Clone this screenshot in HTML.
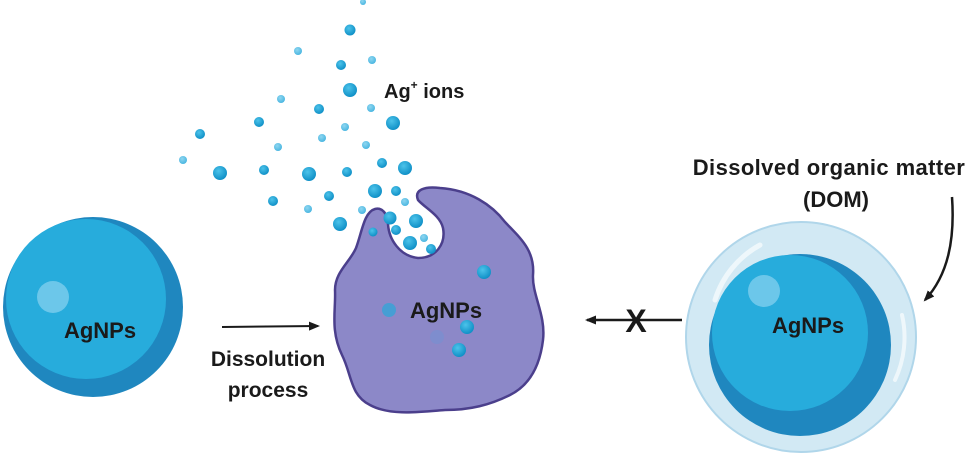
<!DOCTYPE html>
<html><head><meta charset="utf-8"><style>
html,body{margin:0;padding:0;background:#fff;}
svg{display:block;}
text{font-family:"Liberation Sans",sans-serif;font-weight:bold;fill:#1a1a1a;}
</style></head><body>
<svg width="975" height="453" viewBox="0 0 975 453" xmlns="http://www.w3.org/2000/svg">
<defs>
<radialGradient id="dot" cx="0.4" cy="0.35" r="0.7"><stop offset="0" stop-color="#4cc3ea"/><stop offset="1" stop-color="#0b8cc4"/></radialGradient>
<radialGradient id="dotl" cx="0.4" cy="0.35" r="0.7"><stop offset="0" stop-color="#8fd6f0"/><stop offset="1" stop-color="#45b4e0"/></radialGradient>
<marker id="ah" markerWidth="12" markerHeight="12" refX="9" refY="6" orient="auto" markerUnits="userSpaceOnUse"><path d="M0,1.5 L11,6 L0,10.5 Z" fill="#1a1a1a"/></marker>
</defs>

<!-- left sphere -->
<circle cx="93" cy="307" r="90" fill="#1f87bf"/>
<circle cx="86" cy="299" r="80" fill="#27acdc"/>
<circle cx="53" cy="297" r="16" fill="#6cc7ea"/>
<text x="100" y="338" font-size="22" text-anchor="middle">AgNPs</text>

<!-- dissolution arrow -->
<line x1="222" y1="327" x2="318" y2="326" stroke="#1a1a1a" stroke-width="2" marker-end="url(#ah)"/>
<text x="268" y="366" font-size="21" text-anchor="middle">Dissolution</text>
<text x="268" y="397" font-size="21" text-anchor="middle">process</text>

<!-- purple blob -->
<path d="M375,209 C382,207 388,214 388,224 C389,240 400,256 418,258 C436,258 446,244 443,228 C440,215 425,208 418,200 C414,190 424,186 440,188 C470,190 492,205 505,222 C520,238 535,250 533,275 C532,295 546,315 543,340 C540,365 530,385 510,395 C490,405 470,410 445,410 C420,412 390,416 370,405 C350,395 352,375 342,355 C330,330 336,310 335,290 C335,272 350,262 356,248 C362,232 364,212 375,209 Z" fill="#8c88c8" stroke="#4b3f8c" stroke-width="2.5"/>

<!-- dots -->
<g fill="url(#dot)">
<circle cx="350" cy="30" r="5.5"/><circle cx="341" cy="65" r="5"/><circle cx="350" cy="90" r="7"/>
<circle cx="319" cy="109" r="5"/><circle cx="393" cy="123" r="7"/><circle cx="259" cy="122" r="5"/>
<circle cx="200" cy="134" r="5"/><circle cx="220" cy="173" r="7"/><circle cx="264" cy="170" r="5"/>
<circle cx="309" cy="174" r="7"/><circle cx="347" cy="172" r="5"/><circle cx="382" cy="163" r="5"/>
<circle cx="405" cy="168" r="7"/><circle cx="273" cy="201" r="5"/><circle cx="329" cy="196" r="5"/>
<circle cx="375" cy="191" r="7"/><circle cx="396" cy="191" r="5"/><circle cx="340" cy="224" r="7"/>
<circle cx="390" cy="218" r="6.5"/><circle cx="416" cy="221" r="7"/><circle cx="396" cy="230" r="5"/>
<circle cx="410" cy="243" r="7"/><circle cx="431" cy="249" r="5"/><circle cx="373" cy="232" r="4.5"/>
<circle cx="484" cy="272" r="7"/><circle cx="467" cy="327" r="7"/><circle cx="459" cy="350" r="7"/>
</g>
<g fill="url(#dotl)">
<circle cx="363" cy="2" r="3"/><circle cx="298" cy="51" r="4"/><circle cx="372" cy="60" r="4"/>
<circle cx="281" cy="99" r="4"/><circle cx="371" cy="108" r="4"/><circle cx="345" cy="127" r="4"/>
<circle cx="322" cy="138" r="4"/><circle cx="278" cy="147" r="4"/><circle cx="366" cy="145" r="4"/>
<circle cx="183" cy="160" r="4"/><circle cx="405" cy="202" r="4"/><circle cx="308" cy="209" r="4"/>
<circle cx="362" cy="210" r="4"/><circle cx="424" cy="238" r="4"/>
</g>
<circle cx="389" cy="310" r="7" fill="#3aa2d6" opacity="0.85"/>
<circle cx="437" cy="337" r="7" fill="#7a8fd0" opacity="0.8"/>
<text x="446" y="318" font-size="22" text-anchor="middle">AgNPs</text>

<text x="384" y="98" font-size="20">Ag<tspan font-size="12" dy="-9">+</tspan><tspan dy="9"> ions</tspan></text>

<!-- right X arrow -->
<line x1="682" y1="320" x2="587" y2="320" stroke="#1a1a1a" stroke-width="2.5" marker-end="url(#ah)"/>
<text x="636" y="332" font-size="32" text-anchor="middle">X</text>

<!-- right bubble -->
<circle cx="801" cy="337" r="115" fill="#d2e9f4" stroke="#b0d6ea" stroke-width="2"/>
<path d="M715,300 A95,95 0 0 1 760,245" stroke="#eef7fb" stroke-width="5" fill="none" stroke-linecap="round"/>
<path d="M902,315 A100,100 0 0 1 895,380" stroke="#eef7fb" stroke-width="4" fill="none" stroke-linecap="round"/>
<circle cx="800" cy="345" r="91" fill="#1f87bf"/>
<circle cx="790" cy="333" r="78" fill="#27acdc"/>
<circle cx="764" cy="291" r="16" fill="#6cc7ea"/>
<text x="808" y="333" font-size="22" text-anchor="middle">AgNPs</text>

<text x="829" y="175" font-size="22" text-anchor="middle" letter-spacing="0.4">Dissolved organic matter</text>
<text x="836" y="207" font-size="22" text-anchor="middle">(DOM)</text>
<path d="M952,197 C955,240 948,275 925,300" stroke="#1a1a1a" stroke-width="2.5" fill="none" marker-end="url(#ah)"/>
</svg>
</body></html>
